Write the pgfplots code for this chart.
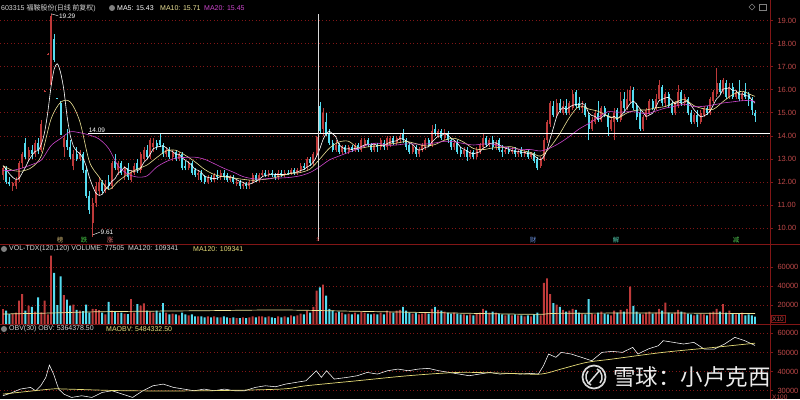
\documentclass[border=0pt]{standalone}
\usepackage{pgfplots}
\pgfplotsset{compat=1.18}
\usepackage{pgfplotstable}
\usepackage{fontspec}
\setmainfont{Liberation Sans}
\newfontfamily\cjk{Noto Sans CJK SC}
\definecolor{upred}{RGB}{190,58,58}
\definecolor{dncyan}{RGB}{84,220,240}
\definecolor{axred}{RGB}{130,22,22}
\definecolor{labred}{RGB}{190,72,72}
\definecolor{ma10y}{RGB}{236,226,150}
\definecolor{ma20p}{RGB}{205,70,205}
\definecolor{obvy}{RGB}{230,220,120}
\definecolor{hdr}{RGB}{215,215,215}

\pgfplotstableread{
i o h l c v
0 12.3 12.7 12.1 12.6 15800
1 12.6 12.7 11.9 12.0 14000
2 12.0 12.2 11.8 11.9 10500
3 11.8 12.0 11.6 11.95 10500
4 11.8 12.2 11.7 12.1 12000
5 12.1 12.9 12.0 12.8 24600
6 12.8 13.3 12.6 13.2 31700
7 13.7 13.9 13.0 13.1 14000
8 13.1 13.5 12.9 13.4 19300
9 13.4 13.6 13.0 13.2 18000
10 13.2 13.8 13.1 13.7 13000
11 13.7 13.9 13.2 13.4 28200
12 13.4 14.7 13.3 14.5 12300
13 15.92 15.97 15.92 15.95 24600
14 17.52 17.57 17.52 17.55 10000
15 16.2 19.29 16.2 19.2 72400
16 18.2 18.4 17.2 17.3 54000
17 15.63 15.63 15.58 15.6 20000
18 15.4 15.5 14.05 14.05 50500
19 13.5 14.0 13.1 13.9 30600
20 13.8 14.3 13.4 13.5 25700
21 13.5 13.8 13.0 13.1 19300
22 12.7 13.4 12.5 13.2 20400
23 13.2 13.5 12.9 13.0 15000
24 13.0 13.4 12.9 13.3 14000
25 13.2 13.3 12.4 12.5 13500
26 12.5 12.6 11.3 11.4 20400
27 11.4 11.6 10.6 10.8 12000
28 10.2 11.3 9.61 11.1 16000
29 11.1 12.0 10.9 11.8 15800
30 11.6 12.2 11.4 12.0 14700
31 12.0 12.1 11.5 11.6 12000
32 11.6 12.1 11.5 11.9 10000
33 12.0 12.3 11.7 11.8 23500
34 11.8 12.9 11.7 12.8 14000
35 12.9 13.2 12.5 12.6 13000
36 12.5 12.9 12.3 12.8 12000
37 12.8 12.9 12.3 12.4 12000
38 12.3 12.7 12.1 12.6 11000
39 12.6 12.8 12.1 12.2 10500
40 12.1 12.5 12.0 12.4 26400
41 12.4 12.8 12.3 12.7 12000
42 12.8 13.0 12.4 12.5 21000
43 12.5 13.3 12.4 13.2 19300
44 13.0 13.5 12.9 13.4 21800
45 13.4 13.6 13.0 13.1 14000
46 13.1 13.9 13.0 13.8 13000
47 13.5 13.9 13.3 13.7 12000
48 13.7 13.8 13.4 13.5 14000
49 13.8 14.09 13.5 13.6 12000
50 13.6 13.7 13.1 13.2 22000
51 13.2 13.5 13.1 13.4 12000
52 13.4 13.5 13.0 13.1 10000
53 13.1 13.4 12.9 13.3 11000
54 13.3 13.4 12.9 13.0 10000
55 13.0 13.3 12.9 13.2 9000
56 13.2 13.3 12.5 12.6 12000
57 12.7 12.9 12.5 12.6 10000
58 12.6 12.9 12.5 12.8 9000
59 12.8 12.9 12.3 12.4 10000
60 12.5 12.6 12.2 12.3 8000
61 12.3 12.5 12.1 12.4 8000
62 12.4 12.5 12.0 12.1 8000
63 12.2 12.3 11.9 12.0 7000
64 12.0 12.3 11.9 12.2 8000
65 12.2 12.3 12.0 12.1 7000
66 12.1 12.4 12.0 12.3 8000
67 12.3 12.5 12.1 12.2 7000
68 12.2 12.5 12.1 12.4 7000
69 12.4 12.5 12.1 12.2 8000
70 12.3 12.4 12.0 12.1 7000
71 12.1 12.3 12.0 12.2 6000
72 12.2 12.3 11.9 12.0 7000
73 11.9 12.1 11.8 12.0 6000
74 12.0 12.1 11.7 11.8 6000
75 11.8 12.0 11.7 11.9 7000
76 11.9 12.0 11.7 11.8 6000
77 11.8 12.1 11.7 12.0 7000
78 12.0 12.4 11.9 12.3 8000
79 12.3 12.4 12.0 12.1 7000
80 12.1 12.4 12.0 12.3 8000
81 12.3 12.5 12.2 12.4 8000
82 12.4 12.5 12.2 12.3 7000
83 12.3 12.5 12.2 12.4 8000
84 12.4 12.5 12.2 12.3 7000
85 12.3 12.4 12.1 12.2 6000
86 12.2 12.5 12.1 12.4 8000
87 12.4 12.5 12.2 12.3 7000
88 12.3 12.5 12.2 12.4 8000
89 12.4 12.5 12.3 12.35 7000
90 12.35 12.6 12.3 12.5 9000
91 12.5 12.6 12.3 12.4 8000
92 12.4 12.6 12.3 12.5 9000
93 12.5 12.8 12.4 12.7 11000
94 12.7 12.8 12.5 12.6 10000
95 12.6 13.1 12.5 13.0 14000
96 13.0 13.1 12.7 12.8 12000
97 12.8 13.3 12.7 13.2 18000
98 13.2 14.0 13.1 13.95 35200
99 15.3 15.45 14.1 14.2 38800
100 14.3 15.2 14.0 15.0 41600
101 14.6 15.0 14.0 14.1 30000
102 14.1 14.3 13.6 13.7 16000
103 13.7 13.8 13.3 13.4 14000
104 13.4 13.8 13.3 13.6 12000
105 13.6 13.7 13.2 13.3 13000
106 13.3 13.6 13.2 13.5 12000
107 13.5 13.6 13.2 13.3 10000
108 13.3 13.6 13.2 13.5 11000
109 13.5 13.6 13.3 13.4 10000
110 13.4 13.7 13.3 13.6 12000
111 13.6 13.7 13.3 13.4 10000
112 13.4 13.9 13.3 13.8 13000
113 13.6 13.9 13.5 13.8 12000
114 13.8 13.9 13.5 13.6 11000
115 13.6 13.7 13.3 13.4 10000
116 13.4 13.7 13.3 13.6 11000
117 13.6 13.7 13.3 13.5 10000
118 13.5 13.9 13.4 13.8 12000
119 13.7 13.8 13.4 13.5 10000
120 13.5 14.0 13.4 13.9 14000
121 13.6 14.0 13.5 13.9 13000
122 13.9 14.0 13.6 13.7 12000
123 13.7 14.0 13.6 13.9 14000
124 13.8 14.1 13.7 14.0 15000
125 14.1 14.3 13.7 13.8 18000
126 13.8 13.9 13.4 13.5 14000
127 13.6 13.7 13.2 13.3 12000
128 13.3 13.6 13.2 13.5 11000
129 13.5 13.6 13.1 13.2 12000
130 13.2 13.5 13.1 13.4 10000
131 13.4 13.7 13.3 13.6 11000
132 13.5 13.9 13.4 13.8 12000
133 13.8 13.9 13.5 13.6 11000
134 13.6 14.45 13.5 14.2 16000
135 14.3 14.5 14.0 14.1 18000
136 14.0 14.3 13.9 14.2 15000
137 14.2 14.3 13.8 13.9 14000
138 13.9 14.3 13.8 14.1 13000
139 14.1 14.2 13.7 13.8 12000
140 13.8 13.9 13.4 13.5 11000
141 13.5 13.8 13.4 13.7 12000
142 13.7 13.8 13.2 13.3 11000
143 13.4 13.5 13.1 13.2 10000
144 13.2 13.5 13.1 13.4 10000
145 13.4 13.5 12.9 13.1 9000
146 13.1 13.4 13.0 13.3 10000
147 13.3 13.4 13.0 13.1 9000
148 13.1 13.5 13.0 13.4 11000
149 13.3 13.7 13.2 13.6 12000
150 13.5 14.1 13.4 13.9 16000
151 13.9 14.0 13.5 13.6 14000
152 13.6 13.9 13.5 13.8 12000
153 13.8 14.0 13.4 13.5 13000
154 13.5 13.8 13.4 13.7 12000
155 13.8 13.9 13.3 13.4 11000
156 13.4 13.6 13.1 13.3 10000
157 13.3 13.5 13.2 13.4 9000
158 13.4 13.5 13.2 13.3 10000
159 13.3 13.5 13.2 13.4 9000
160 13.4 13.5 13.1 13.2 10000
161 13.2 13.4 13.1 13.3 9000
162 13.4 13.5 13.1 13.2 9000
163 13.2 13.4 13.1 13.3 8000
164 13.3 13.4 13.0 13.1 9000
165 13.1 13.3 13.0 13.2 8000
166 13.2 13.3 12.8 12.9 10000
167 13.0 13.1 12.5 12.6 12000
168 12.7 13.1 12.6 13.0 9000
169 13.0 13.9 12.9 13.8 43400
170 13.8 14.7 13.7 14.6 48400
171 14.5 15.5 14.4 15.4 31700
172 15.3 15.5 14.8 14.9 22000
173 14.9 15.6 14.8 15.4 20400
174 15.4 15.6 15.0 15.1 18000
175 15.0 15.5 14.9 15.3 15000
176 15.3 15.6 14.9 15.0 13000
177 15.0 15.5 14.9 15.4 14000
178 15.2 16.0 15.1 15.8 16000
179 15.9 16.0 15.2 15.3 15000
180 15.4 15.7 15.1 15.2 12000
181 15.2 15.5 15.0 15.3 11000
182 15.3 15.4 14.8 14.9 10000
183 14.9 15.0 13.8 14.3 26400
184 14.3 14.8 14.2 14.7 11000
185 14.6 15.1 14.5 15.0 10000
186 15.0 15.5 14.6 14.7 12000
187 14.7 15.3 14.6 15.2 13000
188 15.2 15.3 14.8 14.9 11000
189 14.9 15.0 14.0 14.4 10000
190 14.3 14.8 14.2 14.7 9000
191 14.6 15.2 13.8 15.0 14000
192 15.1 15.2 14.6 14.7 12000
193 14.7 15.9 14.6 15.5 15000
194 15.6 15.9 15.0 15.2 13000
195 15.2 16.0 15.1 15.6 16000
196 15.5 16.15 15.4 16.0 39500
197 16.0 16.1 15.1 15.2 19000
198 15.3 15.4 14.7 14.8 13000
199 15.0 15.1 14.2 14.3 11000
200 14.3 14.9 14.2 14.8 10000
201 14.8 15.2 14.7 15.1 12000
202 15.0 15.6 14.9 15.5 13000
203 15.5 15.6 15.1 15.2 11000
204 15.2 15.8 15.1 15.6 12000
205 15.6 16.4 15.5 16.2 16000
206 16.1 16.2 15.3 15.4 14000
207 15.4 15.9 15.3 15.8 22500
208 15.8 15.9 15.2 15.3 12000
209 15.4 15.5 14.9 15.0 11000
210 15.0 15.5 14.9 15.4 12000
211 15.3 16.2 15.2 15.9 15000
212 15.9 16.0 15.3 15.4 13000
213 15.4 15.8 15.3 15.7 12000
214 15.6 15.7 14.9 15.0 11000
215 15.0 15.1 14.5 14.6 10000
216 14.6 15.0 14.5 14.9 9000
217 14.9 15.1 14.4 14.6 10000
218 14.6 15.1 14.5 15.0 11000
219 14.9 15.3 14.8 15.2 10000
220 15.2 15.3 14.9 15.0 9000
221 15.0 15.7 14.9 15.6 12000
222 15.5 16.0 15.4 15.9 13000
223 15.8 16.95 15.7 16.3 16000
224 16.3 16.4 15.8 15.9 13000
225 15.9 16.5 15.8 16.4 21000
226 16.3 16.4 15.6 15.7 12000
227 15.7 16.3 15.6 16.1 14000
228 16.1 16.3 15.6 15.7 11000
229 15.7 16.0 15.6 15.9 10000
230 15.9 16.4 15.5 15.6 11000
231 15.6 15.9 15.5 15.8 12000
232 15.9 16.3 15.6 15.7 9000
233 15.8 15.9 15.3 15.6 10000
234 15.6 15.7 14.9 15.1 9000
235 15.0 15.1 14.6 14.85 7750
}\kd

\pgfplotsset{
  panel/.style={scale only axis, width=770pt, xmin=-0.9375, xmax=239.69,
    hide x axis, axis y line*=right,
    axis line style={draw=none},
    tick align=outside, major tick length=3pt,
    tick style={axred, line width=0.5pt},
    ymajorgrids, grid style={axred, dash pattern=on 1pt off 2.5pt, line width=0.5pt},
    yticklabel style={font=\fontsize{7.5}{8}\selectfont, text=labred, xshift=1pt},
    scaled y ticks=false,
    clip=true},
  upf/.style={restrict expr to domain={\thisrow{c}-\thisrow{o}}{0:100}},
  dnf/.style={restrict expr to domain={\thisrow{c}-\thisrow{o}}{-100:-0.001}},
}

\begin{document}
\begin{tikzpicture}
\fill[black] (0pt,0pt) rectangle (800pt,399pt);
\useasboundingbox (0pt,0pt) rectangle (800pt,399pt);

% ---------------- price panel ----------------
\begin{axis}[panel, at={(0pt,155pt)}, anchor=south west, height=232pt,
  ymin=9.306, ymax=19.367, ytick={10,11,...,19},
  yticklabel={\pgfmathprintnumber[fixed,fixed zerofill,precision=2,assume math mode=true]{\tick}}]
% wicks
\addplot[upred, line width=0.55pt, upf, quiver={u=0, v=\thisrow{h}-\thisrow{l}, every arrow/.append style={-}}]
  table[x=i, y=l] {\kd};
\addplot[dncyan, line width=0.55pt, dnf, quiver={u=0, v=\thisrow{h}-\thisrow{l}, every arrow/.append style={-}}]
  table[x=i, y=l] {\kd};
% bodies
\addplot[upred, line width=2.1pt, upf, quiver={u=0, v=\thisrow{c}-\thisrow{o}, every arrow/.append style={-}}]
  table[x=i, y=o] {\kd};
\addplot[dncyan, line width=2.1pt, dnf, quiver={u=0, v=\thisrow{c}-\thisrow{o}, every arrow/.append style={-}}]
  table[x=i, y=o] {\kd};
% MA5
\addplot[white, line width=0.6pt, smooth, tension=0.4] coordinates {(0,12.7)(1,12.55)(2,12.35)(3,12.2)(4,12.11)(5,12.15)(6,12.39)(7,12.63)(8,12.92)(9,13.14)(10,13.32)(11,13.36)(12,13.64)(13,14.15)(14,15.02)(15,16.12)(16,16.9)(17,17.12)(18,16.74)(19,16.01)(20,14.87)(21,14.03)(22,13.55)(23,13.34)(24,13.22)(25,13.02)(26,12.68)(27,12.2)(28,11.82)(29,11.52)(30,11.42)(31,11.46)(32,11.68)(33,11.82)(34,12.02)(35,12.14)(36,12.38)(37,12.48)(38,12.64)(39,12.52)(40,12.48)(41,12.46)(42,12.48)(43,12.6)(44,12.84)(45,12.98)(46,13.2)(47,13.44)(48,13.5)(49,13.54)(50,13.56)(51,13.48)(52,13.36)(53,13.32)(54,13.2)(55,13.2)(56,13.04)(57,12.94)(58,12.84)(59,12.72)(60,12.54)(61,12.5)(62,12.4)(63,12.24)(64,12.2)(65,12.16)(66,12.14)(67,12.16)(68,12.24)(69,12.24)(70,12.24)(71,12.22)(72,12.18)(73,12.1)(74,12.02)(75,11.98)(76,11.9)(77,11.9)(78,11.96)(79,12.02)(80,12.1)(81,12.22)(82,12.28)(83,12.3)(84,12.34)(85,12.32)(86,12.32)(87,12.32)(88,12.32)(89,12.33)(90,12.39)(91,12.39)(92,12.43)(93,12.49)(94,12.54)(95,12.64)(96,12.72)(97,12.86)(98,13.11)(99,13.43)(100,13.83)(101,14.09)(102,14.19)(103,14.08)(104,13.96)(105,13.62)(106,13.5)(107,13.42)(108,13.44)(109,13.4)(110,13.46)(111,13.44)(112,13.54)(113,13.6)(114,13.64)(115,13.6)(116,13.64)(117,13.58)(118,13.58)(119,13.56)(120,13.66)(121,13.72)(122,13.76)(123,13.78)(124,13.88)(125,13.86)(126,13.78)(127,13.7)(128,13.62)(129,13.46)(130,13.38)(131,13.4)(132,13.5)(133,13.52)(134,13.72)(135,13.86)(136,13.98)(137,14.0)(138,14.1)(139,14.02)(140,13.9)(141,13.8)(142,13.68)(143,13.5)(144,13.42)(145,13.34)(146,13.26)(147,13.22)(148,13.26)(149,13.3)(150,13.46)(151,13.52)(152,13.66)(153,13.68)(154,13.7)(155,13.6)(156,13.54)(157,13.46)(158,13.42)(159,13.36)(160,13.32)(161,13.32)(162,13.28)(163,13.28)(164,13.22)(165,13.22)(166,13.14)(167,13.02)(168,12.96)(169,13.1)(170,13.38)(171,13.88)(172,14.34)(173,14.82)(174,15.08)(175,15.22)(176,15.14)(177,15.24)(178,15.32)(179,15.36)(180,15.34)(181,15.4)(182,15.3)(183,15.0)(184,14.88)(185,14.84)(186,14.72)(187,14.78)(188,14.9)(189,14.84)(190,14.78)(191,14.84)(192,14.74)(193,14.86)(194,15.02)(195,15.2)(196,15.4)(197,15.5)(198,15.36)(199,15.18)(200,15.02)(201,14.84)(202,14.9)(203,14.98)(204,15.24)(205,15.52)(206,15.58)(207,15.64)(208,15.66)(209,15.54)(210,15.38)(211,15.48)(212,15.4)(213,15.48)(214,15.48)(215,15.32)(216,15.12)(217,14.96)(218,14.82)(219,14.86)(220,14.94)(221,15.08)(222,15.34)(223,15.6)(224,15.74)(225,16.02)(226,16.04)(227,16.08)(228,15.96)(229,15.96)(230,15.8)(231,15.82)(232,15.74)(233,15.72)(234,15.56)(235,15.41)};
% MA10
\addplot[ma10y, line width=0.6pt, smooth] coordinates {(0,12.7)(3,12.5)(6,12.47)(9,12.63)(12,13.14)(15,14.72)(18,15.45)(21,15.47)(24,14.62)(27,12.88)(30,12.22)(33,11.67)(36,12.03)(39,12.33)(42,12.56)(45,12.73)(48,13.05)(51,13.34)(54,13.37)(57,13.15)(60,12.87)(63,12.54)(66,12.32)(69,12.22)(72,12.17)(75,12.11)(78,12.07)(81,12.1)(84,12.15)(87,12.27)(90,12.36)(93,12.41)(96,12.56)(99,12.99)(102,13.46)(105,13.73)(108,13.76)(111,13.47)(114,13.52)(117,13.56)(120,13.63)(123,13.68)(126,13.75)(129,13.66)(132,13.56)(135,13.62)(138,13.81)(141,13.89)(144,13.72)(147,13.45)(150,13.4)(153,13.47)(156,13.5)(159,13.52)(162,13.37)(165,13.27)(168,13.12)(171,13.51)(174,14.09)(177,14.79)(180,15.28)(183,15.16)(186,15.06)(189,14.86)(192,14.76)(195,14.99)(198,15.11)(201,15.12)(204,15.21)(207,15.27)(210,15.45)(213,15.57)(216,15.3)(219,15.17)(222,15.15)(225,15.48)(228,15.78)(231,15.93)(234,15.76)(235,15.71)};
% MA20
\addplot[ma20p, line width=0.6pt, smooth] coordinates {(0,12.5)(3,12.5)(6,12.6)(9,12.75)(12,12.95)(15,13.57)(18,13.88)(21,14.17)(24,14.13)(27,14.03)(30,13.86)(33,13.45)(36,12.69)(39,12.34)(42,12.21)(45,12.26)(48,12.64)(51,12.88)(54,13.03)(57,13.06)(60,13.07)(63,12.98)(66,12.79)(69,12.59)(72,12.42)(75,12.23)(78,12.14)(81,12.12)(84,12.16)(87,12.17)(90,12.2)(93,12.27)(96,12.41)(99,12.66)(102,12.95)(105,13.12)(108,13.28)(111,13.44)(114,13.61)(117,13.68)(120,13.59)(123,13.6)(126,13.65)(129,13.64)(132,13.64)(135,13.69)(138,13.76)(141,13.74)(144,13.66)(147,13.6)(150,13.64)(153,13.64)(156,13.53)(159,13.45)(162,13.41)(165,13.4)(168,13.34)(171,13.47)(174,13.69)(177,13.97)(180,14.29)(183,14.53)(186,14.79)(189,15.04)(192,15.02)(195,15.04)(198,15.03)(201,14.95)(204,15.07)(207,15.2)(210,15.28)(213,15.37)(216,15.26)(219,15.28)(222,15.34)(225,15.42)(228,15.47)(231,15.52)(234,15.53)(235,15.45)};
% horizontal line 14.09, crosshair, extreme labels
\draw[white, line width=0.7pt] (axis cs:26.6,14.09) -- (axis cs:239.69,14.09);
\node[anchor=south west, inner sep=0.5pt, text=white, font=\fontsize{6.5}{7}\selectfont] at (axis cs:26.6,14.12) {14.09};
\draw[white!85!black, line width=0.6pt] (axis cs:98.4,9.45) -- (axis cs:98.4,19.29);
\draw[white, line width=0.4pt] (axis cs:15,19.29) -- (axis cs:17.3,19.2) node[anchor=west, inner sep=0.5pt, text=white, font=\fontsize{6.5}{7}\selectfont] {19.29};
\draw[white, line width=0.4pt] (axis cs:28,9.7) -- (axis cs:30.3,9.82) node[anchor=west, inner sep=0.5pt, text=white, font=\fontsize{6.5}{7}\selectfont] {9.61};
\end{axis}

% ---------------- volume panel ----------------
\begin{axis}[panel, at={(0pt,75pt)}, anchor=south west, height=79pt,
  ymin=-100, ymax=83700, ytick={20000,40000,60000}, yticklabels={20000,40000,60000}]
\addplot[ybar, bar width=0.62, bar shift=0pt, fill=upred, draw=none, upf] table[x=i, y=v] {\kd};
\addplot[ybar, bar width=0.62, bar shift=0pt, fill=dncyan, draw=none, dnf] table[x=i, y=v] {\kd};
\addplot[ma10y, line width=0.7pt, smooth] coordinates {(0,10500)(15,11560)(31,12950)(63,14000)(87,14750)(111,13350)(135,11900)(158,10500)(168,10150)(174,11200)(206,11560)(235,10934)};
\end{axis}

% ---------------- OBV panel ----------------
\begin{axis}[panel, at={(0pt,0pt)}, anchor=south west, height=75pt,
  ymin=25654, ymax=64870, ytick={30000,40000,50000,60000}, yticklabels={30000,40000,50000,60000}]
\addplot[white, line width=0.55pt] coordinates {(0,27345)(2.25,28600)(5.4,30840)(8.6,31710)(10.2,29960)(11.8,32580)(13.4,36950)(14.5,43400)(15.8,38690)(17.4,30840)(19,28220)(21.4,26470)(24.6,27345)(27.8,26470)(31,29090)(34.1,29960)(37.3,28220)(40.5,26470)(43.7,29960)(46.9,32580)(50.1,33450)(53.3,31710)(56.5,30840)(59.7,29960)(62.9,30840)(66,29960)(69.2,30840)(72.4,29960)(75.6,29960)(78.8,31710)(82,32580)(85.2,32060)(88.3,33450)(91.5,34330)(94.7,35200)(96.3,37820)(97.9,40430)(99.5,36950)(101.1,40430)(103.5,36070)(107.5,36950)(110.7,37820)(113.8,39560)(117,38690)(120.2,40430)(123.4,41310)(126.6,40430)(129.8,41310)(133,41660)(136.2,40430)(139.4,39560)(142.6,38690)(145.7,37820)(148.9,38690)(152.1,39560)(155.3,38690)(158.5,39040)(161.7,38690)(164.9,39040)(167.3,38690)(168.9,43050)(170.5,49160)(172.8,47420)(174.4,50040)(177.6,49160)(180.8,47420)(184,45670)(187.2,50040)(190.4,50560)(193.6,50040)(196.8,52650)(198.4,49160)(201.6,51780)(204.8,53520)(206.3,56140)(209.5,55270)(212.7,54400)(215.9,55270)(219.1,51780)(222.3,51780)(225.5,54400)(228.7,57890)(231.8,56140)(235,53644)};
\addplot[obvy, line width=0.7pt, smooth] coordinates {(0,28220)(15,30840)(19.8,30840)(38.9,29960)(62.9,29960)(86.8,30840)(94.7,32580)(110.7,35200)(126.6,37820)(142.6,39560)(158.5,39040)(168.1,38690)(174.4,41310)(182.4,44800)(190.4,46540)(206.3,50040)(222.3,52650)(235,54843)};
\end{axis}

\begin{scope}[x=1pt,y=1pt]
% ---------------- frame lines ----------------
\draw[axred, line width=0.8pt] (770,0) -- (770,399);
\draw[axred, line width=0.8pt] (0,154.3) -- (800,154.3);
\draw[axred, line width=0.8pt] (0,75) -- (800,75);
\node[draw=axred, text=labred, inner sep=1pt, anchor=west, font=\fontsize{6.5}{7}\selectfont] at (771,80) {X10};
\node[text=labred, inner sep=1pt, anchor=west, font=\fontsize{6.5}{7}\selectfont] at (771,2) {X100};

% ---------------- event labels ----------------
\begin{scope}[every node/.style={inner sep=0pt, font=\cjk\fontsize{6.5}{7}\selectfont}]
\node[text={rgb,255:red,200;green,175;blue,110}] at (60,159) {榜};
\node[text={rgb,255:red,70;green,200;blue,70}] at (84,159) {跌};
\node[text={rgb,255:red,225;green,110;blue,110}] at (110,159) {涨};
\node[text={rgb,255:red,220;green,60;blue,60}] at (318,159) {s};
\node[text={rgb,255:red,110;green,150;blue,230}] at (533,159) {财};
\node[text={rgb,255:red,80;green,200;blue,170}] at (616,159) {解};
\node[text={rgb,255:red,80;green,200;blue,80}] at (736,159) {减};
\end{scope}

% ---------------- headers ----------------
\node[anchor=west, inner sep=0pt, text=hdr, font=\fontsize{7}{8}\selectfont] at (1,391) {603315 {\cjk 福鞍股份}({\cjk 日线 前复权})};
\fill[gray] (112,391) circle (3);
\node[anchor=west, inner sep=0pt, text=white, font=\fontsize{7}{8}\selectfont] at (117,391) {MA5: 15.43};
\node[anchor=west, inner sep=0pt, text=ma10y, font=\fontsize{7}{8}\selectfont] at (160,391) {MA10: 15.71};
\node[anchor=west, inner sep=0pt, text=ma20p, font=\fontsize{7}{8}\selectfont] at (204,391) {MA20: 15.45};
\draw[gray] (752,395) -- (755,392) -- (752,389) -- (749,392) -- cycle;
\draw[gray] (759,389) rectangle (766,395);

\fill[gray] (4,150) circle (3);
\node[anchor=west, inner sep=0pt, text=hdr, font=\fontsize{7}{8}\selectfont] at (9,150) {VOL-TDX(120,120) VOLUME: 77505 \ MA120: 109341};
\node[anchor=west, inner sep=0pt, text=obvy, font=\fontsize{7}{8}\selectfont] at (193,150) {MA120: 109341};

\fill[gray] (4,70) circle (3);
\node[anchor=west, inner sep=0pt, text=hdr, font=\fontsize{7}{8}\selectfont] at (9,70) {OBV(30) OBV: 5364378.50};
\node[anchor=west, inner sep=0pt, text=obvy, font=\fontsize{7}{8}\selectfont] at (106,70) {MAOBV: 5484332.50};

% ---------------- watermark ----------------
\draw[white!85!black, line width=1.7pt] (594,22) circle (11.5);
\draw[white!85!black, line width=1.5pt] (588,28) .. controls (584,24) and (586,16) .. (591,14);
\draw[white!85!black, line width=1.5pt] (600,16) .. controls (604,20) and (602,28) .. (597,30);
\draw[white!85!black, line width=1.5pt] (588,15) -- (600,29);
\node[anchor=west, inner sep=0pt, text=white!92!black, font=\cjk\fontsize{22.5}{24}\selectfont] at (613,22) {雪球：小卢克西};
\end{scope}
\end{tikzpicture}
\end{document}
